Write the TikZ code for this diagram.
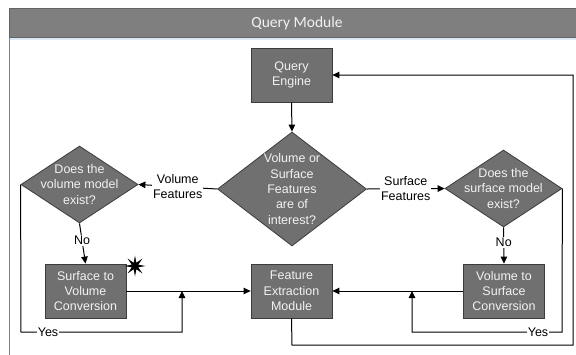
\documentclass[tikz,border=0pt]{standalone}
\usepackage{fontspec}
\setmainfont{Liberation Sans}
\newfontfamily\hdrfont{Carlito}
\usetikzlibrary{shapes.geometric,arrows.meta}
\definecolor{boxfill}{RGB}{112,112,112}
\definecolor{boxline}{RGB}{60,60,60}
\definecolor{boxtext}{RGB}{242,242,242}
\definecolor{hdrfill}{RGB}{127,127,127}
\definecolor{hdrline}{RGB}{100,100,100}
\definecolor{framecol}{RGB}{128,128,128}
\definecolor{glow}{RGB}{222,232,246}
\begin{document}
\begin{tikzpicture}[x=1pt,y=-1pt,
  font=\fontsize{12.5}{15.3}\selectfont,
  procbox/.style={draw=boxline, fill=boxfill, text=boxtext, minimum width=81pt, minimum height=54pt, align=center, inner sep=0pt, line width=0.8pt},
  decision/.style={diamond, draw=boxline, fill=boxfill, inner sep=0pt, line width=0.8pt},
  dtext/.style={text=boxtext, align=center, inner sep=0pt},
  conn/.style={line width=1pt, draw=black},
  arr/.style={conn, -{Triangle[length=7pt,width=6.5pt]}},
  lbl/.style={fill=white, inner sep=1pt, align=center, text=black}]
\useasboundingbox (0,0) rectangle (576,354);
% frame and header
\draw[glow, line width=2pt] (10,38.5) -- (590,38.5);
\draw[framecol, line width=1.6pt] (9.5,8) -- (9.5,360);
\filldraw[fill=hdrfill, draw=hdrline, line width=0.8pt] (9,8) rectangle (590,37);
\node[text=boxtext, font=\hdrfont\fontsize{15.5}{18}\selectfont] (hdr) at (297,23) {Query Module};
% nodes
\node[procbox] (qe) at (291.5,75) {Query\\Engine};
\node[decision, minimum width=149pt, minimum height=114pt] (md) at (292,189) {};
\node[dtext] (mdt) at (md.center) {Volume or\\Surface\\Features\\are of\\interest?};
\node[decision, minimum width=117pt, minimum height=77pt] (ld) at (79.5,184.5) {};
\node[dtext] (ldt) at (ld.center) {Does the\\volume model\\exist?};
\node[decision, minimum width=117pt, minimum height=77pt] (rd) at (503.5,188.5) {};
\node[dtext] (rdt) at (rd.center) {Does the\\surface model\\exist?};
\node[procbox] (stv) at (85.5,291) {Surface to\\Volume\\Conversion};
\node[procbox] (fe) at (291.5,291) {Feature\\Extraction\\Module};
\node[procbox] (vts) at (504,291) {Volume to\\Surface\\Conversion};
\node[star, star points=8, star point ratio=3, fill=black, minimum size=21pt, inner sep=0pt] (star) at (135,266) {};
% junction coordinates
\coordinate (jl) at (182,291);
\coordinate (jr) at (412,291);
\coordinate (yl) at (21,332);
\coordinate (yr) at (562,332);
\coordinate (bt) at (292,345);
\coordinate (rt) at (573,345);
% connectors
\draw[arr] (qe.south) -- (md.north);
\draw[arr] (md.west) -- node[lbl]{Volume\\Features} (ld.east);
\draw[arr] (md.east) -- node[lbl]{Surface\\Features} (rd.west);
\draw[arr] (ld.south) -- node[lbl, pos=0.42]{No} (stv.north);
\draw[arr] (rd.south) -- node[lbl, pos=0.42]{No} (vts.north);
\draw[arr] (stv.east) -- (fe.west);
\draw[arr] (vts.west) -- (fe.east);
\draw[arr] (ld.west) -- (yl) -- (jl |- yl) -- (jl);
\draw[arr] (rd.east) -- (yr) -- (jr |- yr) -- (jr);
\node[lbl] (yesl) at (48,332) {Yes};
\node[lbl] (yesr) at (538,332) {Yes};
\draw[arr] (fe.south) -- (bt) -- (rt) -- (rt |- qe.east) -- (qe.east);
\end{tikzpicture}
\end{document}
